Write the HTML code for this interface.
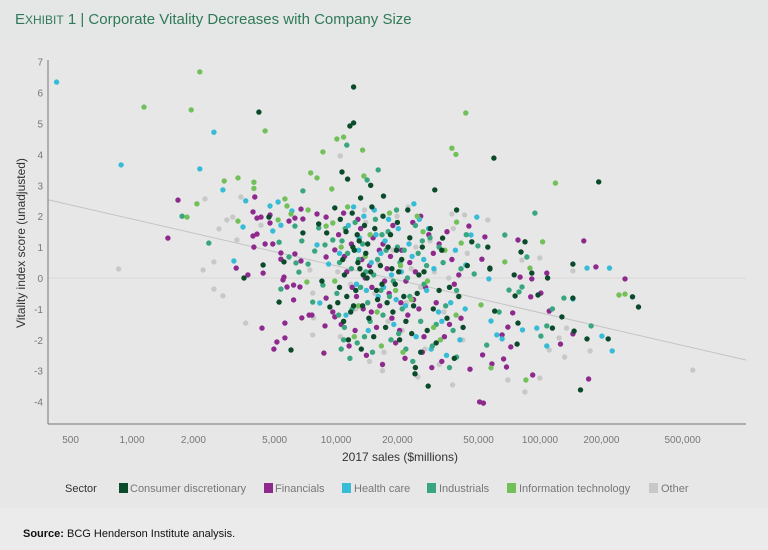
<!DOCTYPE html>
<html><head><meta charset="utf-8">
<style>
html,body{margin:0;padding:0;background:#e7e7e7;}
svg{display:block;font-family:"Liberation Sans",sans-serif;}
</style></head>
<body>
<svg id="chart" width="768" height="550" viewBox="0 0 768 550" xmlns="http://www.w3.org/2000/svg">
  <rect x="0" y="0" width="768" height="550" fill="#e7e7e7"/>
  <rect x="0" y="0" width="768" height="40" fill="#e5e6e6"/>
  <rect x="0" y="508" width="768" height="42" fill="#ebebeb"/>
  <text x="15" y="24" font-size="15" fill="#2f7a58"><tspan font-size="15">E</tspan><tspan font-size="12">XHIBIT</tspan> 1 | Corporate Vitality Decreases with Company Size</text>
  <g id="plot"></g>
  <text x="0" y="0" transform="translate(25,243) rotate(-90)" text-anchor="middle" font-size="12" fill="#333">Vitality index score (unadjusted)</text>
  <text x="400" y="461" text-anchor="middle" font-size="12" fill="#333">2017 sales ($millions)</text>
  <g font-size="11" fill="#777">
    <text x="65" y="492" fill="#333">Sector</text>
    <g><rect x="119" y="483" width="9" height="10" fill="#0b4a2b"/><text x="130" y="492">Consumer discretionary</text></g>
    <g><rect x="264" y="483" width="9" height="10" fill="#8e2a8e"/><text x="275" y="492">Financials</text></g>
    <g><rect x="342" y="483" width="9" height="10" fill="#36bcd6"/><text x="354" y="492">Health care</text></g>
    <g><rect x="427" y="483" width="9" height="10" fill="#3aa680"/><text x="439" y="492">Industrials</text></g>
    <g><rect x="507" y="483" width="9" height="10" fill="#72c05a"/><text x="519" y="492">Information technology</text></g>
    <g><rect x="649" y="483" width="9" height="10" fill="#c8c8c8"/><text x="661" y="492">Other</text></g>
  </g>
  <text x="23" y="537" font-size="11" fill="#111"><tspan font-weight="bold">Source:</tspan> BCG Henderson Institute analysis.</text>
</svg>
<script>
const xTicks = [500, 1000, 2000, 5000, 10000, 20000, 50000, 100000, 200000, 500000];
const xTickLabels = ["500","1,000","2,000","5,000","10,000","20,000","50,000","100,000","200,000","500,000"];
const yTicks = [7,6,5,4,3,2,1,0,-1,-2,-3,-4];
const trendStart = [350, 2.6];
const trendEnd = [1100000, -2.7];
const sectors = ["Other","Financials","Health care","Industrials","Information technology","Consumer discretionary"];

const otherPts = [[860,0.29],[2280,2.56],[2230,0.26],[2520,0.52],[2520,-0.36],[2790,-0.58],[2670,1.59],[2920,1.88],[3120,1.97],[3420,2.62],[3270,1.23],[3610,-1.46],[4290,1.71],[7690,-1.84],[7770,-1.29],[7450,0.26],[7690,-0.49],[10500,3.95],[561000,-2.98],[145000,0.23],[99800,0.65],[81600,0.58],[132000,-2.56],[176000,-2.36],[99800,-3.24],[84400,-3.69],[69600,-3.3],[37300,-3.46],[135000,-1.62],[124000,-1.94],[111000,-2.33],[55500,1.88],[42700,2.04],[37000,2.07],[10500,-1.9],[11800,-0.2],[13100,1.3],[14600,-2.7],[16200,0.5],[18000,-1.4],[19900,2.0],[22100,-0.8],[24600,1.0],[27300,-2.3],[30400,0.2],[33800,-1.1],[37600,1.6],[41800,-2.0],[11100,0.7],[12500,-1.0],[14000,1.8],[15500,-0.5],[17200,-2.4],[19000,0.9],[21100,-1.7],[23400,0.3],[26000,-0.3],[28900,1.2],[32100,-2.8],[35700,0.0],[39700,-0.6],[44000,0.8],[10200,0.2],[16900,-3.0],[25200,-3.2],[22600,2.3],[13800,2.2]];

const finPts = [[1680,2.52],[1500,1.29],[4000,2.62],[3920,2.14],[4100,1.94],[4290,1.97],[4750,2.04],[4750,1.78],[5880,1.84],[6290,1.94],[6740,2.23],[6880,1.91],[3920,1.36],[4100,1.42],[3960,1.0],[4490,1.1],[4900,1.1],[5370,0.81],[6290,0.78],[5370,0.61],[6740,0.55],[3240,0.32],[3700,0.1],[4390,0.16],[5560,0.03],[5500,-0.06],[5750,-0.29],[6200,-0.23],[6650,-0.29],[6200,-0.71],[4340,-1.62],[5620,-1.46],[5620,-1.94],[5130,-2.07],[4960,-2.3],[6800,-1.29],[7380,-1.2],[7620,-1.2],[8830,-1.55],[8720,-2.43],[8940,-0.65],[9650,-1.1],[9860,-1.26],[8940,0.68],[9860,0.91],[8070,2.07],[8940,1.97],[164000,1.2],[188000,0.36],[261000,-0.03],[78000,1.23],[108000,0.16],[91200,-0.03],[79900,0.03],[101000,-0.49],[90000,-0.61],[111000,-1.07],[126000,-2.14],[145000,-1.81],[173000,-3.27],[92100,-3.14],[50600,-4.01],[52800,-4.05],[68500,-2.88],[66300,-2.62],[71900,-2.23],[58100,-2.78],[65200,-1.84],[69600,-1.59],[53700,1.33],[51900,0.61],[44800,1.68],[73500,-1.13],[52300,-2.49],[45400,-2.95],[10300,1.4],[11000,0.7],[12000,-0.3],[12800,1.9],[13600,-1.0],[14600,0.4],[15800,-1.6],[17000,1.1],[18200,-0.5],[19600,-2.1],[21000,0.9],[22500,-1.2],[24500,0.2],[26500,-2.4],[28500,1.4],[31000,-0.8],[34000,-1.9],[37000,0.6],[41000,-1.3],[10600,-1.5],[11600,-2.2],[12600,-0.6],[13900,0.0],[15200,1.3],[16400,-0.9],[17800,0.3],[19000,1.7],[20500,-1.7],[22000,-0.1],[23800,1.8],[25500,-1.0],[27500,-0.3],[30000,0.8],[33000,-2.7],[36000,-1.5],[40000,0.1],[10900,2.1],[14100,-2.5],[16900,-2.8],[21800,-2.6],[27000,-1.9],[29500,-2.9],[11300,0.2],[18800,-1.3],[24000,-0.7],[32000,1.1],[38000,-0.2],[13200,1.6],[26000,2.0],[35000,1.5],[11900,1.1],[13400,0.6],[15000,-0.3],[16300,0.9],[18500,0.7],[20800,-0.8],[12400,-1.7],[14900,-1.1],[17300,-0.1],[23000,0.5]];

const healthPts = [[427,6.34],[884,3.66],[2520,4.72],[2150,3.53],[2790,2.85],[3610,2.5],[3500,1.65],[3160,0.55],[4750,2.33],[4900,1.52],[5370,1.71],[5200,2.46],[6080,2.17],[8070,1.07],[8330,-0.81],[9200,0.45],[49000,1.97],[45900,1.39],[56200,-0.03],[170000,0.32],[219000,0.32],[145000,-0.68],[57500,-1.39],[82100,-1.68],[96500,-1.62],[201000,-1.88],[226000,-2.36],[108000,-2.2],[61400,-1.84],[65200,-1.97],[43300,0.42],[10400,0.8],[11500,1.7],[12600,-0.2],[13700,2.0],[14900,0.5],[16100,-0.6],[17400,1.2],[18700,0.1],[20200,1.6],[21900,-0.9],[23600,0.7],[25600,1.9],[27800,-0.4],[30200,0.3],[33000,-1.4],[36500,-0.8],[40500,-2.0],[11200,-1.2],[12900,0.9],[14400,-1.7],[15700,1.4],[17100,-0.3],[19200,-1.5],[20900,0.2],[22800,1.1],[24700,-1.9],[26900,0.6],[29300,-2.3],[31800,-1.1],[34800,-2.5],[12200,2.3],[15400,2.2],[18100,1.9],[24100,2.4],[28400,1.6],[38500,0.9],[43000,-1.0],[13000,1.3],[16600,0.8],[19700,-0.7],[14100,-0.4]];

const indPts = [[1760,2.0],[2380,1.13],[6880,2.82],[5260,1.16],[6800,1.2],[6290,1.68],[6370,0.49],[7300,0.45],[7860,0.87],[6580,0.19],[5880,0.68],[5370,-0.36],[7690,-0.78],[8630,-0.23],[8830,1.07],[9650,1.23],[8230,1.62],[11300,4.3],[16100,3.5],[14200,3.17],[94400,2.1],[67200,1.39],[86300,0.68],[131000,-0.65],[115000,-1.0],[178000,-1.55],[108000,-1.55],[101000,-1.88],[70500,-0.39],[78900,-0.45],[81600,-0.29],[63000,-1.1],[54800,-2.17],[39000,-2.56],[47600,0.13],[49600,1.04],[10100,-0.5],[11000,-1.6],[11900,0.3],[12700,-2.1],[13500,1.1],[14300,-0.8],[15100,-2.4],[16000,0.6],[17000,-1.2],[18000,1.5],[19100,-0.1],[20300,-1.8],[21600,0.9],[23000,-0.6],[24500,1.7],[26000,-1.4],[27800,0.4],[29700,-2.2],[32000,1.0],[34500,-0.9],[37500,-1.7],[41000,0.3],[10700,1.2],[11700,-2.6],[12400,1.8],[13200,-0.3],[14000,0.2],[14700,-1.4],[15600,1.9],[16600,-0.4],[17600,0.9],[18600,-2.0],[19800,2.2],[21100,-1.0],[22400,0.0],[23800,-2.7],[25300,0.8],[27000,-0.2],[28900,1.3],[31000,-1.5],[33500,0.5],[36000,-2.9],[39000,-0.4],[43500,1.4],[10400,0.5],[12000,-1.0],[13800,-1.9],[20000,1.0],[22000,-2.3],[26500,1.2],[10300,-1.2],[10900,-2.0],[11400,0.8],[12900,0.6],[15300,0.1],[16800,1.4],[18300,-0.6],[20600,0.5],[10600,-2.3],[11100,1.6]];

const itPts = [[2150,6.67],[1145,5.53],[1950,5.44],[4490,4.76],[10100,4.5],[8630,4.08],[7520,3.4],[8070,3.24],[9540,2.88],[2830,3.14],[3310,3.24],[3960,3.1],[3960,2.9],[2080,2.4],[1860,1.97],[3310,1.84],[5620,2.56],[5750,2.33],[7300,2.2],[6020,2.07],[8940,1.68],[9650,1.78],[5200,1.88],[7200,-0.13],[9860,-0.1],[43300,5.34],[37000,4.2],[38700,4.0],[119000,3.07],[39000,1.81],[41100,1.13],[67200,0.52],[103000,1.17],[89300,0.32],[244000,-0.55],[261000,-0.52],[85300,-3.3],[57500,-2.91],[51400,-0.87],[10900,4.56],[13500,4.14],[13700,3.3],[10600,1.0],[12300,-1.9],[13900,0.7],[15900,-1.1],[18300,2.1],[20700,0.4],[23400,-0.7],[26700,1.5],[30100,-1.6],[34200,0.9],[11400,2.3],[16700,-2.2],[21300,-2.4],[28100,-0.1],[38800,-1.2],[14700,1.4],[19600,-0.4],[25000,2.0],[32500,-2.0],[12900,-0.9]];

const cdPts = [[4190,5.37],[4690,1.97],[6880,1.46],[8230,1.75],[9000,1.46],[4390,0.42],[5560,0.52],[3540,0.0],[8530,-0.1],[5260,-0.78],[6020,-2.33],[9330,-0.94],[9860,2.27],[12200,6.18],[11700,4.92],[12200,5.02],[10700,3.43],[11400,3.2],[14800,3.0],[30500,2.85],[17100,2.65],[13200,2.59],[59400,3.88],[194000,3.11],[39000,2.2],[84400,1.17],[80700,0.84],[145000,0.45],[56800,0.32],[74700,0.1],[91200,0.16],[109000,0.0],[284000,-0.61],[304000,-0.94],[75500,-0.58],[97800,-0.55],[145000,-0.65],[128000,-1.26],[147000,-1.72],[170000,-1.97],[216000,-1.97],[115000,-1.62],[77200,-2.14],[158000,-3.62],[60000,-1.07],[78000,-1.46],[33300,1.29],[46300,1.17],[55500,1.0],[56800,0.29],[10500,1.9],[11200,1.5],[12000,2.1],[13000,1.2],[14000,0.8],[15500,1.6],[16500,0.4],[18000,1.0],[19500,-0.2],[21000,0.6],[23000,1.3],[25000,-0.5],[27000,0.2],[30000,-1.0],[33000,0.9],[36000,-0.3],[11000,0.1],[12500,-0.4],[13500,-0.9],[14500,-1.3],[16000,-0.7],[17500,-1.6],[19000,-1.1],[20500,-2.0],[22000,-1.4],[24000,-0.9],[26000,-2.4],[28000,-1.7],[31000,-2.1],[35000,-1.3],[40000,-0.6],[44000,0.4],[10200,-0.8],[11800,-1.1],[12800,0.5],[13800,1.7],[15000,2.3],[17000,2.0],[18500,1.4],[20000,1.8],[22500,2.2],[12300,0.9],[14800,0.2],[16800,-0.2],[18800,0.3],[21500,-0.6],[23500,-1.8],[26500,1.0],[29000,1.6],[32000,-0.4],[38000,-2.6],[42000,-1.6],[11500,-2.0],[13300,-2.3],[15300,-1.9],[28300,-3.5],[24400,-3.1],[24500,-2.9],[14200,0.0],[10800,0.6],[12100,1.0],[13100,0.3],[19800,0.9],[25500,0.1],[10400,-0.3],[11300,-0.6],[12700,1.4],[13600,0.1],[14300,1.1],[15800,-0.4],[10900,-1.4],[12200,-0.9],[17800,-0.8],[20300,0.2]];

const seriesColors = ["#c8c8c8","#8e2a8e","#36bcd6","#3aa680","#72c05a","#0b4a2b"];
const seriesData = [otherPts, finPts, healthPts, indPts, itPts, cdPts];

const NS = "http://www.w3.org/2000/svg";
const plotLeft = 48, plotRight = 746, plotBottom = 424, plotTop = 60;
function xScale(v){ return 132 + 204 * (Math.log10(v) - 3); }
function yScale(v){ return 278 - 30.9 * v; }
function xInv(px){ return Math.pow(10, 3 + (px - 132) / 204); }
function trendAt(v){ const t = (Math.log10(v) - Math.log10(trendStart[0])) / (Math.log10(trendEnd[0]) - Math.log10(trendStart[0])); return trendStart[1] + (trendEnd[1] - trendStart[1]) * t; }
const plot = document.getElementById("plot");
function mk(tag, attrs){ const e = document.createElementNS(NS, tag); for (const k in attrs) e.setAttribute(k, attrs[k]); plot.appendChild(e); return e; }

const zl = mk("line", {x1: plotLeft, x2: plotRight, y1: yScale(0), y2: yScale(0), stroke: "#dadada", "stroke-width": 1});



const tl = mk("line", {x1: plotLeft, y1: yScale(trendAt(xInv(plotLeft))), x2: plotRight, y2: yScale(trendAt(xInv(plotRight))), stroke: "#c4c4c4", "stroke-width": 1});



seriesData.forEach((pts, si) => {
  pts.forEach(p => {
    const c = mk("circle", {cx: xScale(p[0]).toFixed(1), cy: yScale(p[1]).toFixed(1), r: 2.7, fill: seriesColors[si]});
    
    
  });
});

const ya = mk("line", {x1: plotLeft, x2: plotLeft, y1: plotTop, y2: plotBottom, stroke: "#8a8a8a", "stroke-width": 1.2});


const xa = mk("line", {x1: plotLeft, x2: plotRight, y1: plotBottom, y2: plotBottom, stroke: "#8a8a8a", "stroke-width": 1.2});



yTicks.forEach(t => {
  const e = mk("text", {x: 43, y: yScale(t) + 4, "text-anchor": "end", "font-size": 10, fill: "#777"});
  e.textContent = String(t);
  
  
});
xTicks.forEach((t, i) => {
  const e = mk("text", {x: xScale(t), y: 443, "text-anchor": "middle", "font-size": 10, fill: "#777"});
  e.textContent = xTickLabels[i];
  
  
});
</script>
</body></html>
